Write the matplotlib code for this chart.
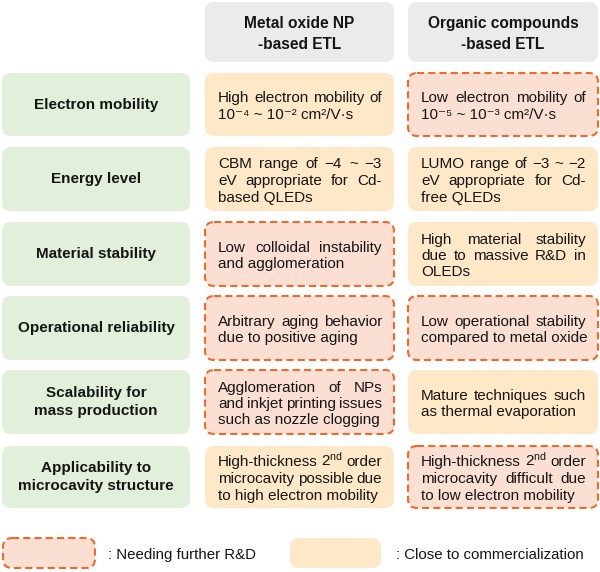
import matplotlib.pyplot as plt
from matplotlib.patches import FancyBboxPatch

plt.rcParams['font.family'] = ['Liberation Sans', 'DejaVu Sans']
plt.rcParams['mathtext.fontset'] = 'custom'
plt.rcParams['mathtext.rm'] = 'Liberation Sans'
plt.rcParams['mathtext.it'] = 'Liberation Sans:italic'
plt.rcParams['mathtext.bf'] = 'Liberation Sans:bold'

# ---- table content ----
headers = ['Metal oxide NP\n-based ETL', 'Organic compounds\n-based ETL']
row_labels = ['Electron mobility', 'Energy level', 'Material stability',
              'Operational reliability', 'Scalability for\nmass production',
              'Applicability to\nmicrocavity structure']
metal_oxide = [
    ['High electron mobility of', '10\u207b\u2074 ~ 10\u207b\u00b2 cm\u00b2/V\u00b7s'],
    ['CBM range of \u22124 ~ \u22123', 'eV appropriate for Cd-', 'based QLEDs'],
    ['Low colloidal instability', 'and agglomeration'],
    ['Arbitrary aging behavior', 'due to positive aging'],
    ['Agglomeration of NPs', 'and inkjet printing issues', 'such as nozzle clogging'],
    ['High-thickness 2$^{\\mathrm{nd}}$ order', 'microcavity possible due', 'to high electron mobility'],
]
organic = [
    ['Low electron mobility of', '10\u207b\u2075 ~ 10\u207b\u00b3 cm\u00b2/V\u00b7s'],
    ['LUMO range of \u22123 ~ \u22122', 'eV appropriate for Cd-', 'free QLEDs'],
    ['High material stability', 'due to massive R&D in', 'OLEDs'],
    ['Low operational stability', 'compared to metal oxide'],
    ['Mature techniques such', 'as thermal evaporation'],
    ['High-thickness 2$^{\\mathrm{nd}}$ order', 'microcavity difficult due', 'to low electron mobility'],
]
# 'rd' = needing further R&D, 'cc' = close to commercialization
metal_status = ['cc', 'cc', 'rd', 'rd', 'rd', 'cc']
organic_status = ['rd', 'cc', 'cc', 'rd', 'cc', 'rd']
legend_labels = {'rd': ': Needing further R&D', 'cc': ': Close to commercialization'}

GRAY = '#ebebeb'
GREEN = '#e2efda'
PEACH = '#fee8c8'
PINK = '#fbdfd3'
EDGE = '#ee6b2d'
TXT = '#151515'

fig = plt.figure(figsize=(6, 5.72), dpi=100)
ax = fig.add_axes([0, 0, 1, 1])
ax.set_xlim(0, 600)
ax.set_ylim(572, 0)
ax.axis('off')
renderer = fig.canvas.get_renderer()


def box(x0, y0, x1, y1, kind):
    face = {'gray': GRAY, 'green': GREEN, 'cc': PEACH, 'rd': PINK}[kind]
    if kind == 'rd':
        p = FancyBboxPatch((x0, y0), x1 - x0, y1 - y0,
                           boxstyle='round,pad=0,rounding_size=9',
                           fc=face, ec=EDGE, lw=1.5, ls=(0, (3.4, 2.0)))
    else:
        p = FancyBboxPatch((x0, y0), x1 - x0, y1 - y0,
                           boxstyle='round,pad=0,rounding_size=9',
                           fc=face, ec='none')
    ax.add_patch(p)


def justified(lines, x0, x1, yc, size=11, step=16.5):
    n = len(lines)
    for i, line in enumerate(lines):
        # whole-pixel baseline so every word of a line snaps the same way
        base = round(yc + (i - (n - 1) / 2) * step + 6)
        words = line.split(' ')
        if i == n - 1 or len(words) == 1:
            ax.text(x0, base, line, fontsize=size, color=TXT, va='baseline', ha='left')
            continue
        ts = [ax.text(0, base, w, fontsize=size, color=TXT, va='baseline', ha='left')
              for w in words]
        inv = ax.transData.inverted()
        widths = []
        for t in ts:
            bb = t.get_window_extent(renderer)
            a = inv.transform((bb.x0, bb.y0))
            b = inv.transform((bb.x1, bb.y0))
            widths.append(b[0] - a[0])
        gap = (x1 - x0 - sum(widths)) / (len(words) - 1)
        x = x0
        for t, w in zip(ts, widths):
            t.set_x(x)
            x += w + gap


cols = [(205, 394), (408, 598)]
rows = [(73, 136), (147, 211), (222, 286), (296, 360), (370, 434), (446, 508)]

for (x0, x1), h in zip(cols, headers):
    box(x0, 2, x1, 62, 'gray')
    ax.text((x0 + x1) / 2, 34, h, fontsize=11.2, fontweight='bold', color=TXT,
            ha='center', va='center', linespacing=1.5)

for i, (y0, y1) in enumerate(rows):
    yc = (y0 + y1) / 2
    box(2, y0, 190, y1, 'green')
    ax.text(96, yc, row_labels[i], fontsize=11, fontweight='bold', color=TXT,
            ha='center', va='center', linespacing=1.45)
    for (x0, x1), texts, st in zip(cols, [metal_oxide, organic], [metal_status, organic_status]):
        box(x0, y0, x1, y1, st[i])
        justified(texts[i], x0 + 13, x1 - 12, yc)

# legend
box(3, 538, 95, 568, 'rd')
ax.text(108, 555, legend_labels['rd'], fontsize=10.8, color=TXT, ha='left', va='center')
box(290, 538, 381, 568, 'cc')
ax.text(396, 555, legend_labels['cc'], fontsize=10.8, color=TXT, ha='left', va='center')

fig.savefig('out.png', dpi=100)
